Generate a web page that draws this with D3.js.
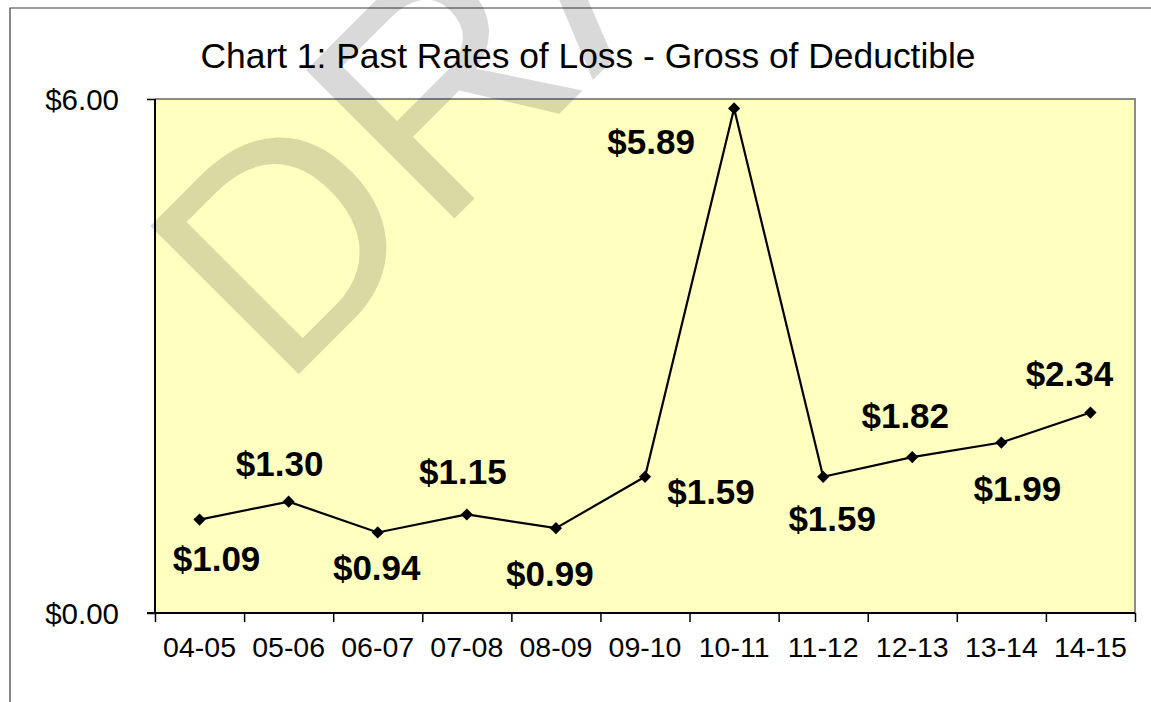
<!DOCTYPE html>
<html>
<head>
<meta charset="utf-8">
<script src="https://cdn.jsdelivr.net/npm/d3@7"></script>
<style>
  body { margin: 0; background: #fff; }
  svg { display: block; font-family: "Liberation Sans", Arial, sans-serif; }
</style>
</head>
<body>
<svg width="1151" height="702"></svg>
<script>
// Chart data
var years = ["04-05", "05-06", "06-07", "07-08", "08-09", "09-10", "10-11", "11-12", "12-13", "13-14", "14-15"];
var rates = [1.09, 1.30, 0.94, 1.15, 0.99, 1.59, 5.89, 1.59, 1.82, 1.99, 2.34];
var yTicks = [0, 6];

// where each data label sits relative to its marker (label centre, px)
var labelDx = [17, -9, -1, -4, -6, 66, -83, 9, -7, 16, -21];
var labelDy = [39, -38, 35, -43, 45, 15, 33, 42, -42, 46, -39];

var svg = d3.select("svg"),
    width = +svg.attr("width"),
    height = +svg.attr("height");

var plot = {left: 155, right: 1135, top: 99, bottom: 613};

var x = d3.scaleBand()
    .domain(years)
    .range([plot.left, plot.right])
    .padding(0);

var xEdge = d3.scaleLinear()
    .domain([0, years.length])
    .range([plot.left, plot.right]);

var y = d3.scaleLinear()
    .domain([0, 6])
    .range([plot.bottom, plot.top]);

var money = d3.format("$.2f");

// outer frame of the chart object
svg.append("path")
    .attr("d", "M10," + height + "V8H" + width)
    .attr("fill", "none")
    .attr("stroke", "#3c3c3c")
    .attr("stroke-width", 1.2);

// plot area
svg.append("rect")
    .attr("x", plot.left)
    .attr("y", plot.top)
    .attr("width", plot.right - plot.left)
    .attr("height", plot.bottom - plot.top)
    .attr("fill", "#ffffc0");

svg.append("path")
    .attr("d", "M" + plot.left + "," + plot.top + "H" + plot.right + "V" + plot.bottom)
    .attr("fill", "none")
    .attr("stroke", "#8a8a8a")
    .attr("stroke-width", 2);

// DRAFT watermark
svg.append("text")
    .attr("transform", "translate(281,392) rotate(-45)")
    .attr("font-size", 305)
    .attr("fill", "#000")
    .attr("fill-opacity", 0.15)
    .text("DRAFT");

// title
svg.append("text")
    .attr("x", 588)
    .attr("y", 68)
    .attr("text-anchor", "middle")
    .attr("font-size", 35.4)
    .attr("fill", "#000")
    .text("Chart 1: Past Rates of Loss - Gross of Deductible");

// y axis
var yAxis = svg.append("g")
    .attr("transform", "translate(" + plot.left + ",0)")
    .call(d3.axisLeft(y)
      .tickValues(yTicks)
      .tickSize(8)
      .tickPadding(28)
      .tickFormat(money));

yAxis.select(".domain")
    .attr("stroke", "#000")
    .attr("stroke-width", 2)
    .attr("d", "M0," + plot.top + "V" + plot.bottom);
yAxis.selectAll(".tick line").attr("stroke", "#000").attr("stroke-width", 1.5);
yAxis.selectAll(".tick text")
    .attr("font-size", 29.5)
    .attr("font-family", "Liberation Sans, Arial, sans-serif")
    .attr("fill", "#000")
    .attr("dy", "0.36em");

// x axis: ticks on category boundaries, labels at band centres
var xTickAxis = svg.append("g")
    .attr("transform", "translate(0," + plot.bottom + ")")
    .call(d3.axisBottom(xEdge)
      .tickValues(d3.range(0, years.length + 1))
      .tickSize(9)
      .tickFormat(""));

xTickAxis.select(".domain")
    .attr("stroke", "#000")
    .attr("stroke-width", 2)
    .attr("d", "M" + (plot.left - 8) + ",0H" + plot.right);
xTickAxis.selectAll(".tick line").attr("stroke", "#000").attr("stroke-width", 1.5);

var xLabelAxis = svg.append("g")
    .attr("transform", "translate(0," + plot.bottom + ")")
    .call(d3.axisBottom(x)
      .tickSize(0)
      .tickPadding(24));

xLabelAxis.select(".domain").remove();
xLabelAxis.selectAll(".tick text")
    .attr("font-size", 28.5)
    .attr("font-family", "Liberation Sans, Arial, sans-serif")
    .attr("fill", "#000")
    .attr("dy", "0.71em");

// series line
var line = d3.line()
    .x(function(d, i) { return x(years[i]) + x.bandwidth() / 2; })
    .y(function(d) { return y(d); });

svg.append("path")
    .datum(rates)
    .attr("fill", "none")
    .attr("stroke", "#000")
    .attr("stroke-width", 2.2)
    .attr("d", line);

// diamond markers
svg.append("g")
    .selectAll("path")
    .data(rates)
    .enter().append("path")
    .attr("transform", function(d, i) {
      return "translate(" + (x(years[i]) + x.bandwidth() / 2) + "," + y(d) + ")";
    })
    .attr("d", d3.symbol().type(d3.symbolDiamond2).size(95))
    .attr("fill", "#000");

// data labels
svg.append("g")
    .selectAll("text")
    .data(rates)
    .enter().append("text")
    .attr("x", function(d, i) { return x(years[i]) + x.bandwidth() / 2 + labelDx[i]; })
    .attr("y", function(d, i) { return y(d) + labelDy[i] + 12.5; })
    .attr("text-anchor", "middle")
    .attr("font-size", 35)
    .attr("font-weight", "bold")
    .attr("fill", "#000")
    .text(function(d) { return money(d); });
</script>
</body>
</html>
